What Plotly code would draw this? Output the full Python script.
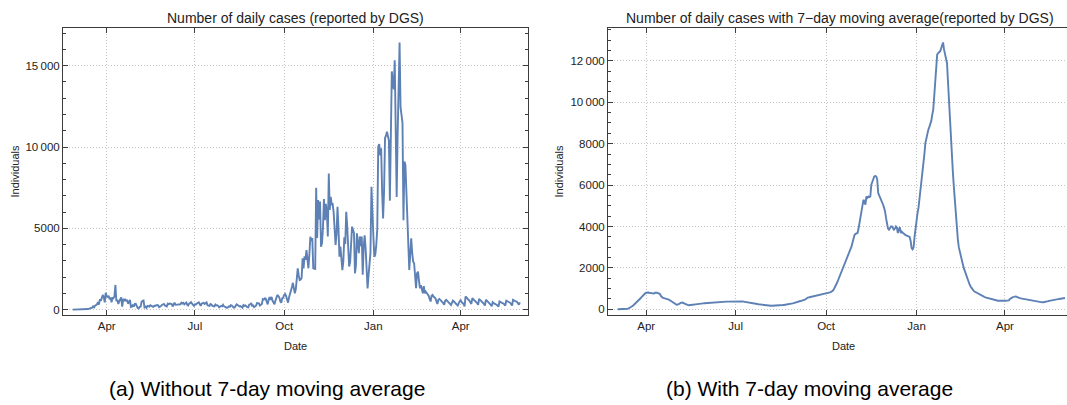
import pandas as pd
import plotly.graph_objects as go

# ---------------- data: daily reported cases (DGS), from 2020-02-26 ----------------
feb20 = [0, 0, 0, 0]
mar20 = [0, 2, 2, 2, 3, 4, 8, 9, 9, 2, 18, 19, 34, 57, 76, 86, 117, 194, 143, 235, 260, 320,
         460, 302, 633, 549, 724, 902, 792, 446, 1035]
apr20 = [808, 783, 852, 638, 754, 452, 712, 699, 815, 1516, 515, 598, 349, 514, 643, 750, 181,
         663, 521, 657, 516, 603, 371, 444, 595, 163, 183, 295, 183, 345]
may20 = [353, 145, 92, 69, 173, 178, 480, 533, 553, 138, 175, 98, 234, 219, 187, 264, 227, 226,
         173, 223, 228, 252, 288, 271, 152, 165, 219, 285, 304, 350, 257]
jun20 = [200, 195, 366, 331, 377, 382, 346, 192, 294, 421, 294, 294, 328, 311, 289, 330, 421, 374,
         417, 323, 375, 433, 311, 259, 367, 451, 457, 365, 266, 229]
jul20 = [328, 313, 374, 413, 443, 328, 232, 375, 402, 418, 343, 402, 443, 264, 252, 228, 339, 312,
         229, 202, 194, 313, 252, 270, 232, 135, 173, 232, 204, 300, 198]
aug20 = [170, 158, 106, 140, 204, 178, 278, 252, 155, 120, 140, 260, 325, 285, 229, 193, 212, 190,
         120, 278, 233, 262, 192, 151, 135, 307, 316, 401, 232, 259, 156]
sep20 = [235, 238, 401, 387, 385, 253, 330, 348, 646, 620, 687, 673, 486, 320, 613, 770, 599, 780,
         552, 467, 326, 552, 691, 899, 828, 754, 510, 425, 691, 735]
oct20 = [899, 963, 825, 658, 427, 746, 1036, 1278, 1394, 1646, 1278, 1000, 1240, 2072, 2540, 2101,
         1820, 1849, 1949, 3150, 2535, 3270, 3062, 3665, 3000, 2540, 3400, 4480, 4224, 4400, 2540]
nov20 = [2506, 2505, 7497, 4400, 6740, 5550, 6640, 3870, 4096, 5000, 6800, 5500, 6500, 6000, 4500,
         8371, 6125, 6940, 6472, 6489, 6000, 4500, 3970, 4647, 6330, 5000, 3250, 3870, 3300, 2430]
dec20 = [2962, 4444, 4032, 6020, 5144, 3250, 2650, 2900, 4000, 5100, 4916, 4700, 2230, 2700, 4690,
         4000, 3470, 4500, 3900, 4490, 2140, 3900, 4570, 3750, 2800, 1300, 2093, 2900, 3500, 7560, 5500]
jan21 = [4500, 3250, 3384, 4000, 4956, 10027, 10176, 9478, 9927, 7259, 5604, 7259, 10556, 10698,
         10947, 10663, 10385, 6702, 10455, 14647, 14000, 13544, 15333, 11721, 6923, 10765, 15073,
         16432, 12435, 12000, 11500]
feb21 = [5500, 9100, 8900, 7400, 5710, 4500, 2435, 3400, 4380, 3500, 2950, 2850, 2100, 1310, 2230,
         2330, 1800, 1310, 1500, 1200, 1000, 1450, 1000, 1100, 1000, 900, 850, 650]
mar21 = [500, 850, 900, 800, 750, 700, 500, 350, 600, 650, 600, 550, 500, 400, 300, 550, 600, 550,
         500, 450, 350, 280, 500, 550, 500, 450, 400, 300, 250, 400, 550]
apr21 = [600, 450, 400, 350, 200, 800, 750, 650, 600, 550, 400, 350, 700, 650, 600, 550, 500, 400,
         300, 650, 600, 550, 500, 450, 350, 250, 600, 550, 500, 450]
may21 = [400, 300, 200, 450, 400, 380, 350, 300, 250, 180, 500, 450, 420, 400, 380, 300, 250, 550,
         500, 480, 450, 420, 350, 250, 600, 550, 520, 500, 480, 400, 300]
jun21 = [450]

# ---------------- data: 7-day moving average, from 2020-03-03 ----------------
ma_mar20 = [1, 1, 2, 3, 4, 6, 8, 11, 15, 20, 28, 40, 60, 85, 120, 160, 200, 240, 280, 330, 390, 440,
            470, 520, 580, 640, 700, 740, 770]
ma_apr20 = [800, 816, 810, 800, 790, 770, 750, 745, 760, 800, 816, 800, 780, 760, 737, 640, 560, 550,
            540, 530, 515, 497, 485, 470, 440, 410, 382, 340, 300, 260]
ma_may20 = [240, 222, 225, 240, 270, 310, 333, 330, 300, 270, 240, 222, 210, 200, 200, 205, 210, 215,
            220, 230, 240, 250, 260, 265, 270, 272, 275, 280, 285, 290, 295]
ma_jun20 = [300, 305, 310, 315, 320, 325, 328, 331, 333, 335, 338, 340, 343, 346, 349, 352, 355, 358,
            361, 364, 367, 369, 371, 373, 375, 376, 377, 378, 379, 380]
ma_jul20 = [381, 382, 383, 383, 382, 380, 378, 375, 370, 364, 357, 350, 343, 335, 333, 325, 315, 305,
            295, 285, 275, 265, 255, 245, 237, 230, 222, 215, 208, 202, 196]
ma_aug20 = [190, 185, 180, 176, 174, 172, 171, 171, 172, 174, 177, 180, 184, 188, 192, 196, 200, 205,
            210, 215, 220, 226, 232, 238, 245, 256, 270, 285, 300, 320, 340]
ma_sep20 = [360, 370, 380, 390, 400, 410, 415, 430, 450, 480, 520, 560, 575, 585, 595, 610, 630, 650,
            660, 668, 671, 675, 682, 690, 700, 708, 715, 722, 730, 737]
ma_oct20 = [753, 770, 790, 805, 820, 840, 865, 910, 980, 1060, 1150, 1270, 1380, 1500, 1620, 1730,
            1830, 1940, 2060, 2200, 2340, 2478, 2580, 2700, 2800, 2880, 3050, 3250, 3450, 3600, 3650]
ma_nov20 = [3660, 3685, 3900, 4170, 4500, 4850, 5100, 5290, 5200, 5050, 5450, 5380, 5450, 5420, 5450,
            6020, 6150, 6300, 6420, 6440, 6420, 6270, 5620, 5500, 5400, 5300, 5210, 5050, 4900, 4730]
ma_dec20 = [4400, 4000, 3900, 3845, 3950, 4000, 4000, 3900, 3845, 3900, 4000, 3950, 3685, 3850, 3970,
            3685, 3750, 3700, 3650, 3600, 3580, 3560, 3540, 3520, 3500, 3300, 2960, 2900, 2990, 3500, 4000]
ma_jan21 = [4410, 4650, 4900, 5300, 5940, 6250, 6500, 6900, 7500, 8030, 8300, 8500, 8675, 8800, 8915,
            9100, 9400, 9640, 10300, 11000, 11700, 12300, 12380, 12420, 12460, 12600, 12750, 12890,
            12540, 12300, 11975]
ma_feb21 = [11900, 11000, 10000, 9000, 8300, 7300, 6600, 5900, 5200, 4500, 4000, 3400, 3000, 2750,
            2550, 2400, 2200, 2000, 1850, 1700, 1550, 1430, 1330, 1200, 1100, 1020, 960, 900]
ma_mar21 = [860, 830, 816, 790, 760, 730, 700, 670, 645, 623, 600, 580, 565, 550, 530, 510, 497, 485,
            475, 465, 455, 445, 435, 425, 415, 410, 408, 405, 405, 410, 412]
ma_apr21 = [415, 415, 415, 410, 430, 497, 540, 570, 590, 600, 615, 623, 600, 570, 550, 540, 530, 520,
            510, 497, 490, 485, 480, 478, 470, 464, 455, 445, 430, 415]
ma_may21 = [400, 385, 370, 360, 355, 352, 345, 340, 338, 340, 345, 355, 365, 380, 395, 410, 415, 420,
            430, 440, 450, 460, 470, 480, 490, 500, 510, 520, 530, 540, 545]
ma_jun21 = [545]

# ---------------- tick labels ----------------
x_tick_dates = ["2020-04-01", "2020-07-01", "2020-10-01", "2021-01-01", "2021-04-01"]
x_tick_labels = ["Apr", "Jul", "Oct", "Jan", "Apr"]
left_y_ticks = [0, 5000, 10000, 15000]
left_y_labels = ["0", "5000", "10\u2009000", "15\u2009000"]
right_y_ticks = [0, 2000, 4000, 6000, 8000, 10000, 12000]
right_y_labels = ["0", "2000", "4000", "6000", "8000", "10\u2009000", "12\u2009000"]

daily_cases = (feb20 + mar20 + apr20 + may20 + jun20 + jul20 + aug20 + sep20 + oct20 + nov20
               + dec20 + jan21 + feb21 + mar21 + apr21 + may21 + jun21)
daily_dates = pd.date_range("2020-02-26", periods=len(daily_cases), freq="D")
ma_cases = (ma_mar20 + ma_apr20 + ma_may20 + ma_jun20 + ma_jul20 + ma_aug20 + ma_sep20 + ma_oct20
            + ma_nov20 + ma_dec20 + ma_jan21 + ma_feb21 + ma_mar21 + ma_apr21 + ma_may21 + ma_jun21)
ma_dates = pd.date_range("2020-03-03", periods=len(ma_cases), freq="D")

# ---------------- style ----------------
W, H = 1067, 405
LINE = "rgb(94,129,181)"
FRAME = "#3c3c3c"
GRID = "#c4c4c4"
TEXT = "#222222"
FONT = "Liberation Sans, Arial, sans-serif"


def px(x):
    return x / W


def py(y):
    return 1 - y / H


common = dict(showline=True, linecolor=FRAME, linewidth=1, ticks="inside", ticklen=5,
              tickcolor=FRAME, tickwidth=1, showgrid=True, gridcolor=GRID, griddash="1px,2px",
              gridwidth=1, zeroline=False, tickfont=dict(family=FONT, size=11.5, color=TEXT))

fig = go.Figure()
fig.add_trace(go.Scatter(x=daily_dates, y=daily_cases, mode="lines",
                         line=dict(color=LINE, width=1.9), xaxis="x", yaxis="y",
                         hoverinfo="skip"))
fig.add_trace(go.Scatter(x=ma_dates, y=ma_cases, mode="lines",
                         line=dict(color=LINE, width=1.9), xaxis="x2", yaxis="y2",
                         hoverinfo="skip"))

top, bottom = 28.3, 315
fig.update_layout(
    width=W, height=H, margin=dict(l=0, r=0, t=0, b=0),
    paper_bgcolor="white", plot_bgcolor="white", showlegend=False,
    xaxis=dict(domain=[px(63), px(528)], type="date",
               range=["2020-02-15 23:00", "2021-06-09 10:00"],
               tickmode="array", tickvals=x_tick_dates, ticktext=x_tick_labels,
               mirror="ticks", anchor="y", **common),
    yaxis=dict(domain=[py(bottom), py(top)], range=[-332, 17300],
               tickmode="array", tickvals=left_y_ticks, ticktext=left_y_labels,
               mirror="ticks", anchor="x",
               minor=dict(tickmode="linear", tick0=0, dtick=1000, ticks="inside", ticklen=3,
                          tickcolor=FRAME, showgrid=False),
               **common),
    xaxis2=dict(domain=[px(608), 1.0], type="date",
                range=["2020-02-22 03:00", "2021-06-03 02:00"],
                tickmode="array", tickvals=x_tick_dates, ticktext=x_tick_labels,
                mirror="ticks", anchor="y2", **common),
    yaxis2=dict(domain=[py(bottom), py(top)], range=[-275, 13573],
                tickmode="array", tickvals=right_y_ticks, ticktext=right_y_labels,
                mirror=False, anchor="x2",
                minor=dict(tickmode="linear", tick0=0, dtick=500, ticks="inside", ticklen=3,
                           tickcolor=FRAME, showgrid=False),
                **common),
)

ann = []
title_font = dict(family=FONT, size=14, color=TEXT)
label_font = dict(family=FONT, size=11, color=TEXT)
cap_font = dict(family=FONT, size=21, color="black")
ann.append(dict(text="Number of daily cases (reported by DGS)", x=px(295.5), y=py(18),
                xref="paper", yref="paper", showarrow=False, font=title_font,
                xanchor="center", yanchor="middle"))
ann.append(dict(text="Number of daily cases with 7\u2212day moving average(reported by DGS)",
                x=px(840), y=py(18), xref="paper", yref="paper", showarrow=False,
                font=title_font, xanchor="center", yanchor="middle"))
for cx in (295.5, 843):
    ann.append(dict(text="Date", x=px(cx), y=py(346), xref="paper", yref="paper",
                    showarrow=False, font=label_font, xanchor="center", yanchor="middle"))
for cx in (15, 559):
    ann.append(dict(text="Individuals", x=px(cx), y=py(171.5), xref="paper", yref="paper",
                    showarrow=False, font=label_font, textangle=-90,
                    xanchor="center", yanchor="middle"))
ann.append(dict(text="(a) Without 7-day moving average", x=px(267), y=py(388),
                xref="paper", yref="paper", showarrow=False, font=cap_font,
                xanchor="center", yanchor="middle"))
ann.append(dict(text="(b) With 7-day moving average", x=px(809.5), y=py(388),
                xref="paper", yref="paper", showarrow=False, font=cap_font,
                xanchor="center", yanchor="middle"))
fig.update_layout(annotations=ann)

fig.write_html("out.html")
